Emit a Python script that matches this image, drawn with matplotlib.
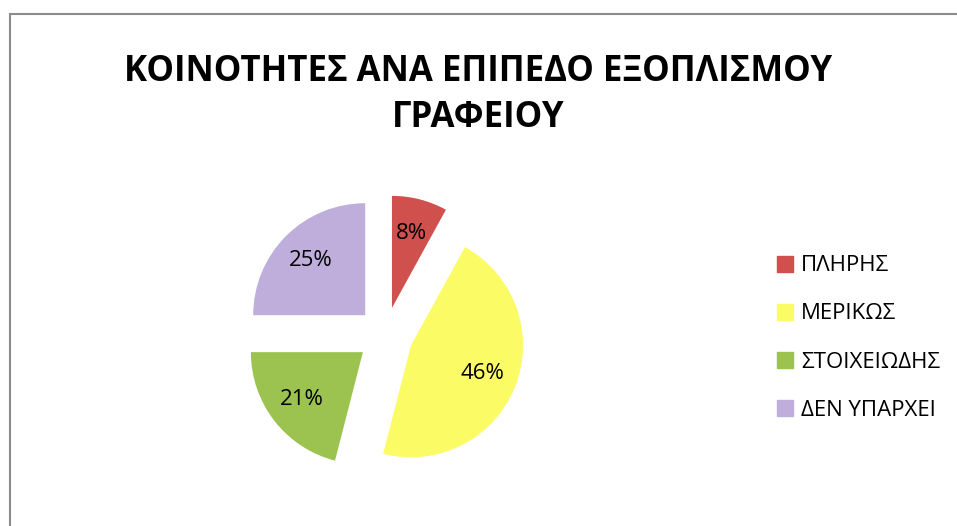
import matplotlib
matplotlib.use("Agg")
import matplotlib.pyplot as plt
from matplotlib.patches import Rectangle
from matplotlib.lines import Line2D

title = "ΚΟΙΝΟΤΗΤΕΣ ΑΝΑ ΕΠΙΠΕΔΟ ΕΞΟΠΛΙΣΜΟΥ\nΓΡΑΦΕΙΟΥ"
categories = ["ΠΛΗΡΗΣ", "ΜΕΡΙΚΩΣ", "ΣΤΟΙΧΕΙΩΔΗΣ", "ΔΕΝ ΥΠΑΡΧΕΙ"]
values = [8, 46, 21, 25]
colors = ["#CF504D", "#FBFB66", "#9CC24F", "#BFAEDC"]

plt.rcParams['font.family'] = ['Open Sans', 'DejaVu Sans']

W, H = 957, 526
fig = plt.figure(figsize=(W / 100, H / 100), dpi=100)

# chart border
fig.patches.append(Rectangle((10 / W, -0.1), 2, (H - 14) / H + 0.1,
                             transform=fig.transFigure, fill=False,
                             edgecolor="#8C8C8C", linewidth=1.5))

ax = fig.add_axes([0, 0, 1, 1])
R = 112.0
cx, cy = 385.0, 335.0

wedges, texts, autotexts = ax.pie(
    values, colors=colors, startangle=90, counterclock=False,
    explode=[0.25] * 4, radius=1.0, pctdistance=0.69,
    autopct=lambda p: f"{p:.0f}%",
    wedgeprops=dict(edgecolor="none"),
    textprops=dict(fontsize=16, color="black"))
ax.set_aspect("auto")
ax.set_xlim(-cx / R, (W - cx) / R)
ax.set_ylim(-(H - cy) / R, cy / R)
ax.axis("off")

fig.text(478 / W, 1 - 95 / H, title, ha="center", va="center",
         fontsize=25, fontweight="bold", linespacing=1.35)

handles = [Line2D([], [], marker="s", linestyle="none", markersize=11,
                  markerfacecolor=c, markeredgecolor=c) for c in colors]
leg = fig.legend(handles, categories, loc="center left",
                 bbox_to_anchor=(752 / W, 1 - 338 / H), frameon=False,
                 fontsize=16, labelspacing=1.22, handletextpad=0.1,
                 handlelength=1.2)

fig.savefig("out.png", dpi=100)
